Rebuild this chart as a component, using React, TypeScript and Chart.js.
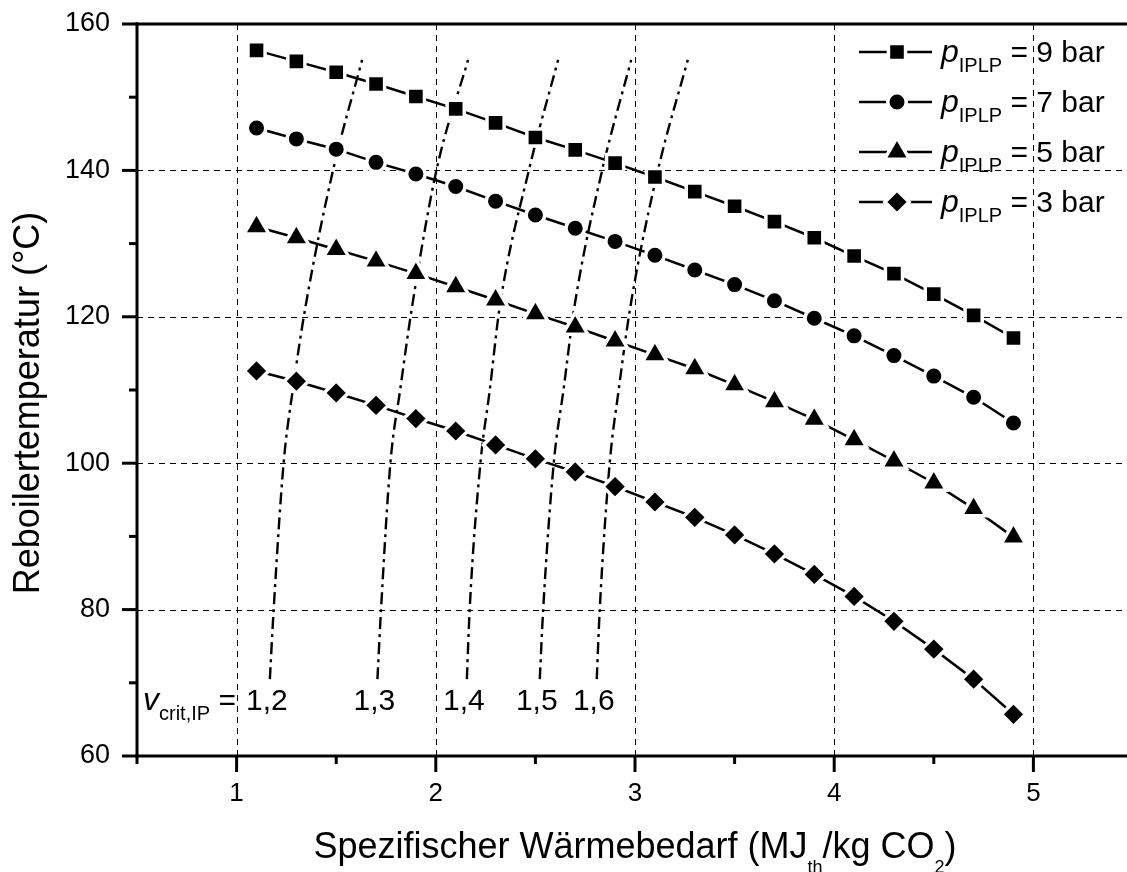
import React, { useEffect, useRef } from 'react';
import { Chart, registerables } from 'chart.js';

Chart.register(...registerables);

// ---------- data ----------
const xValues = [1.1, 1.3, 1.5, 1.7, 1.9, 2.1, 2.3, 2.5, 2.7, 2.9, 3.1, 3.3, 3.5, 3.7, 3.9, 4.1, 4.3, 4.5, 4.7, 4.9];
const p9bar = [156.4, 154.9, 153.4, 151.8, 150.1, 148.4, 146.5, 144.5, 142.8, 141.0, 139.1, 137.1, 135.1, 133.0, 130.8, 128.3, 125.9, 123.1, 120.2, 117.1];
const p7bar = [145.8, 144.3, 142.9, 141.1, 139.5, 137.8, 135.8, 133.9, 132.1, 130.3, 128.4, 126.4, 124.4, 122.2, 119.8, 117.4, 114.7, 111.9, 109.0, 105.5];
const p5bar = [132.3, 130.8, 129.2, 127.6, 125.9, 124.1, 122.3, 120.4, 118.6, 116.7, 114.8, 112.9, 110.7, 108.4, 106.0, 103.2, 100.3, 97.3, 93.8, 89.9];
const p3bar = [112.6, 111.2, 109.6, 107.9, 106.1, 104.4, 102.5, 100.6, 98.8, 96.8, 94.7, 92.6, 90.2, 87.6, 84.8, 81.8, 78.4, 74.6, 70.5, 65.7];
const seriesLabels = ['9 bar', '7 bar', '5 bar', '3 bar'];
const seriesMarkers = ['rect', 'circle', 'triangle', 'rectRot'];

// v_crit,IP iso-lines (x read at these temperature levels)
const vcritLevels = [70.5, 80, 100, 110, 121.4, 140, 155.1];
const vcrit12 = [1.167, 1.186, 1.236, 1.282, 1.346, 1.484, 1.630];
const vcrit13 = [1.707, 1.725, 1.772, 1.821, 1.881, 2.003, 2.162];
const vcrit14 = [2.156, 2.170, 2.224, 2.271, 2.321, 2.467, 2.614];
const vcrit15 = [2.522, 2.539, 2.592, 2.641, 2.696, 2.835, 2.981];
const vcrit16 = [2.808, 2.823, 2.873, 2.918, 2.977, 3.115, 3.265];
const vcritLabels = ['1,2', '1,3', '1,4', '1,5', '1,6'];

// ticks
const xTickValues = [1, 2, 3, 4, 5];
const xMinorTicks = [0.5, 1.5, 2.5, 3.5, 4.5, 5.5];
const yTickValues = [60, 80, 100, 120, 140, 160];
const yMinorTicks = [70, 90, 110, 130, 150];
const xGridValues = [1, 2, 3, 4, 5];
const yGridValues = [80, 100, 120, 140];

const FONT = '"Liberation Sans", Arial, Helvetica, sans-serif';
const markerRadius: Record<string, number> = { rect: 12.1, circle: 9.25, triangle: 14.4, rectRot: 12.1 };
const MARKER_GAP = 3.5;

function drawMarker(ctx: CanvasRenderingContext2D, style: string, x: number, y: number, r: number) {
  ctx.beginPath();
  if (style === 'circle') {
    ctx.arc(x, y, r, 0, Math.PI * 2);
  } else if (style === 'rect') {
    const s = r * Math.SQRT1_2;
    ctx.rect(x - s, y - s, 2 * s, 2 * s);
  } else if (style === 'triangle') {
    let rad = 0;
    ctx.moveTo(x + Math.sin(rad) * r, y - Math.cos(rad) * r);
    rad += (2 * Math.PI) / 3;
    ctx.lineTo(x + Math.sin(rad) * r, y - Math.cos(rad) * r);
    rad += (2 * Math.PI) / 3;
    ctx.lineTo(x + Math.sin(rad) * r, y - Math.cos(rad) * r);
    ctx.closePath();
  } else {
    ctx.moveTo(x - r, y);
    ctx.lineTo(x, y - r);
    ctx.lineTo(x + r, y);
    ctx.lineTo(x, y + r);
    ctx.closePath();
  }
  ctx.fillStyle = '#000';
  ctx.fill();
  ctx.strokeStyle = '#fff';
  ctx.lineWidth = MARKER_GAP;
  ctx.stroke();
}

type Piece = { t: string; size: number; italic?: boolean; dy?: number };

function drawPieces(ctx: CanvasRenderingContext2D, pieces: Piece[], x: number, y: number, align: 'left' | 'center') {
  const font = (p: Piece) => `${p.italic ? 'italic ' : ''}${p.size}px ${FONT}`;
  let total = 0;
  for (const p of pieces) {
    ctx.font = font(p);
    total += ctx.measureText(p.t).width;
  }
  let cx = align === 'center' ? x - total / 2 : x;
  ctx.textAlign = 'left';
  ctx.textBaseline = 'alphabetic';
  for (const p of pieces) {
    ctx.font = font(p);
    ctx.fillText(p.t, cx, y + (p.dy || 0));
    cx += ctx.measureText(p.t).width;
  }
}

const originPlugin = {
  id: 'originStyle',
  beforeDatasetsDraw(chart: any) {
    const { ctx, chartArea: a, scales } = chart;
    const xs = scales.x;
    const ys = scales.y;
    ctx.save();
    ctx.beginPath();
    ctx.rect(a.left, a.top, a.right - a.left, a.bottom - a.top);
    ctx.clip();
    ctx.strokeStyle = '#000';
    ctx.lineWidth = 1;
    ctx.setLineDash([6, 5]);
    for (const v of xGridValues) {
      const p = Math.round(xs.getPixelForValue(v)) + 0.5;
      ctx.beginPath();
      ctx.moveTo(p, a.top);
      ctx.lineTo(p, a.bottom);
      ctx.stroke();
    }
    for (const v of yGridValues) {
      const p = Math.round(ys.getPixelForValue(v)) + 0.5;
      ctx.beginPath();
      ctx.moveTo(a.left, p);
      ctx.lineTo(a.right, p);
      ctx.stroke();
    }
    ctx.restore();
  },
  afterDraw(chart: any) {
    const { ctx, chartArea: a, scales } = chart;
    const xs = scales.x;
    const ys = scales.y;
    ctx.save();
    ctx.strokeStyle = '#000';
    ctx.setLineDash([]);
    ctx.lineCap = 'butt';
    const line = (x1: number, y1: number, x2: number, y2: number, w: number) => {
      ctx.lineWidth = w;
      ctx.beginPath();
      ctx.moveTo(x1, y1);
      ctx.lineTo(x2, y2);
      ctx.stroke();
    };
    // axes frame
    line(a.left, a.top - 1.5, a.left, a.bottom + 1.5, 3);
    line(a.left - 1.5, a.bottom, a.right, a.bottom, 3);
    line(a.left - 1.5, a.top, a.right, a.top, 3);
    // y ticks
    for (const v of yTickValues) {
      const p = ys.getPixelForValue(v);
      line(a.left - 15, p, a.left, p, 3);
    }
    for (const v of yMinorTicks) {
      const p = ys.getPixelForValue(v);
      line(a.left - 8, p, a.left, p, 3);
    }
    // x ticks
    for (const v of xTickValues) {
      const p = xs.getPixelForValue(v);
      line(p, a.bottom, p, a.bottom + 16, 3);
    }
    for (const v of xMinorTicks) {
      const p = xs.getPixelForValue(v);
      line(p, a.bottom, p, a.bottom + 8, 3);
    }

    ctx.fillStyle = '#000';
    // legend
    const lx1 = a.right - 274;
    const lx2 = a.right - 201;
    const lxm = a.right - 236;
    seriesLabels.forEach((lab, i) => {
      const ly = a.top + 28 + 50 * i;
      ctx.strokeStyle = '#000';
      line(lx1, ly, lx2, ly, 2.5);
      drawMarker(ctx, seriesMarkers[i], lxm, ly, markerRadius[seriesMarkers[i]]);
      ctx.fillStyle = '#000';
      drawPieces(ctx, [
        { t: 'p', size: 32, italic: true },
        { t: 'IPLP', size: 20, dy: 10 },
        { t: ' = ' + lab, size: 30 },
      ], a.right - 192, ly + 10, 'left');
    });

    // v_crit labels
    ctx.fillStyle = '#000';
    const curves = [vcrit12, vcrit13, vcrit14, vcrit15, vcrit16];
    const baseY = ys.getPixelForValue(vcritLevels[0]) + 31;
    drawPieces(ctx, [
      { t: 'v', size: 32, italic: true },
      { t: 'crit,IP', size: 20, dy: 10 },
      { t: ' =', size: 30 },
    ], a.left + 6, baseY, 'left');
    curves.forEach((c, i) => {
      const px = xs.getPixelForValue(c[0]) - 3;
      drawPieces(ctx, [{ t: vcritLabels[i], size: 30 }], px, baseY, 'center');
    });

    // axis titles
    drawPieces(ctx, [
      { t: 'Spezifischer Wärmebedarf (MJ', size: 36 },
      { t: 'th', size: 18, dy: 15 },
      { t: '/kg CO', size: 36 },
      { t: '2', size: 18, dy: 15 },
      { t: ')', size: 36 },
    ], (a.left + a.right) / 2, a.bottom + 102, 'center');

    ctx.save();
    ctx.translate(a.left - 98, 403);
    ctx.rotate(-Math.PI / 2);
    drawPieces(ctx, [{ t: 'Reboilertemperatur (°C)', size: 36 }], 0, 0, 'center');
    ctx.restore();

    ctx.restore();
  },
};

export default function App() {
  const ref = useRef<HTMLCanvasElement>(null);
  useEffect(() => {
    const mainSeries = [p9bar, p7bar, p5bar, p3bar].map((vals, i) => ({
      label: seriesLabels[i],
      data: xValues.map((x, j) => ({ x, y: vals[j] })),
      showLine: true,
      borderColor: '#000',
      borderWidth: 2.5,
      pointStyle: seriesMarkers[i],
      pointRadius: markerRadius[seriesMarkers[i]],
      pointHoverRadius: markerRadius[seriesMarkers[i]],
      pointBackgroundColor: '#000',
      pointBorderColor: '#fff',
      pointBorderWidth: MARKER_GAP,
      tension: 0,
    }));
    const curveSeries = [vcrit12, vcrit13, vcrit14, vcrit15, vcrit16].map((xs, i) => ({
      label: 'v ' + vcritLabels[i],
      data: vcritLevels.map((y, j) => ({ x: xs[j], y })),
      showLine: true,
      borderColor: '#000',
      borderWidth: 2.4,
      borderDash: [12, 5, 3, 5],
      pointRadius: 0,
      pointHoverRadius: 0,
      cubicInterpolationMode: 'monotone',
    }));
    const chart = new Chart(ref.current as HTMLCanvasElement, {
      type: 'scatter',
      data: { datasets: [...mainSeries, ...curveSeries] as any },
      options: {
        responsive: false,
        animation: false,
        devicePixelRatio: 1,
        layout: { autoPadding: false, padding: { top: 24, right: 0, bottom: 0, left: 0 } },
        plugins: { legend: { display: false }, tooltip: { enabled: false } },
        scales: {
          x: {
            type: 'linear',
            min: 0.5,
            max: 5.5,
            afterFit: (s: any) => {
              s.height = 116;
              s.paddingLeft = 0;
              s.paddingRight = 0;
              s.paddingTop = 0;
              s.paddingBottom = 0;
            },
            afterBuildTicks: (s: any) => { s.ticks = xTickValues.map((v) => ({ value: v })); },
            grid: { display: false, drawTicks: false },
            border: { display: false },
            ticks: { color: '#000', font: { family: FONT, size: 26 }, padding: 22, maxRotation: 0, autoSkip: false },
          },
          y: {
            type: 'linear',
            min: 60,
            max: 160,
            afterFit: (s: any) => {
              s.width = 137;
              s.paddingLeft = 0;
              s.paddingRight = 0;
              s.paddingTop = 0;
              s.paddingBottom = 0;
            },
            afterBuildTicks: (s: any) => { s.ticks = yTickValues.map((v) => ({ value: v })); },
            grid: { display: false, drawTicks: false },
            border: { display: false },
            ticks: { color: '#000', font: { family: FONT, size: 27 }, padding: 27, autoSkip: false },
          },
        },
      },
      plugins: [originPlugin],
    } as any);
    return () => chart.destroy();
  }, []);
  return (
    <div style={{ position: 'fixed', left: 0, top: 0, width: 1127, height: 872, overflow: 'hidden', background: '#fff' }}>
      <canvas ref={ref} width={1133} height={872} style={{ display: 'block', width: 1133, height: 872 }} />
    </div>
  );
}
